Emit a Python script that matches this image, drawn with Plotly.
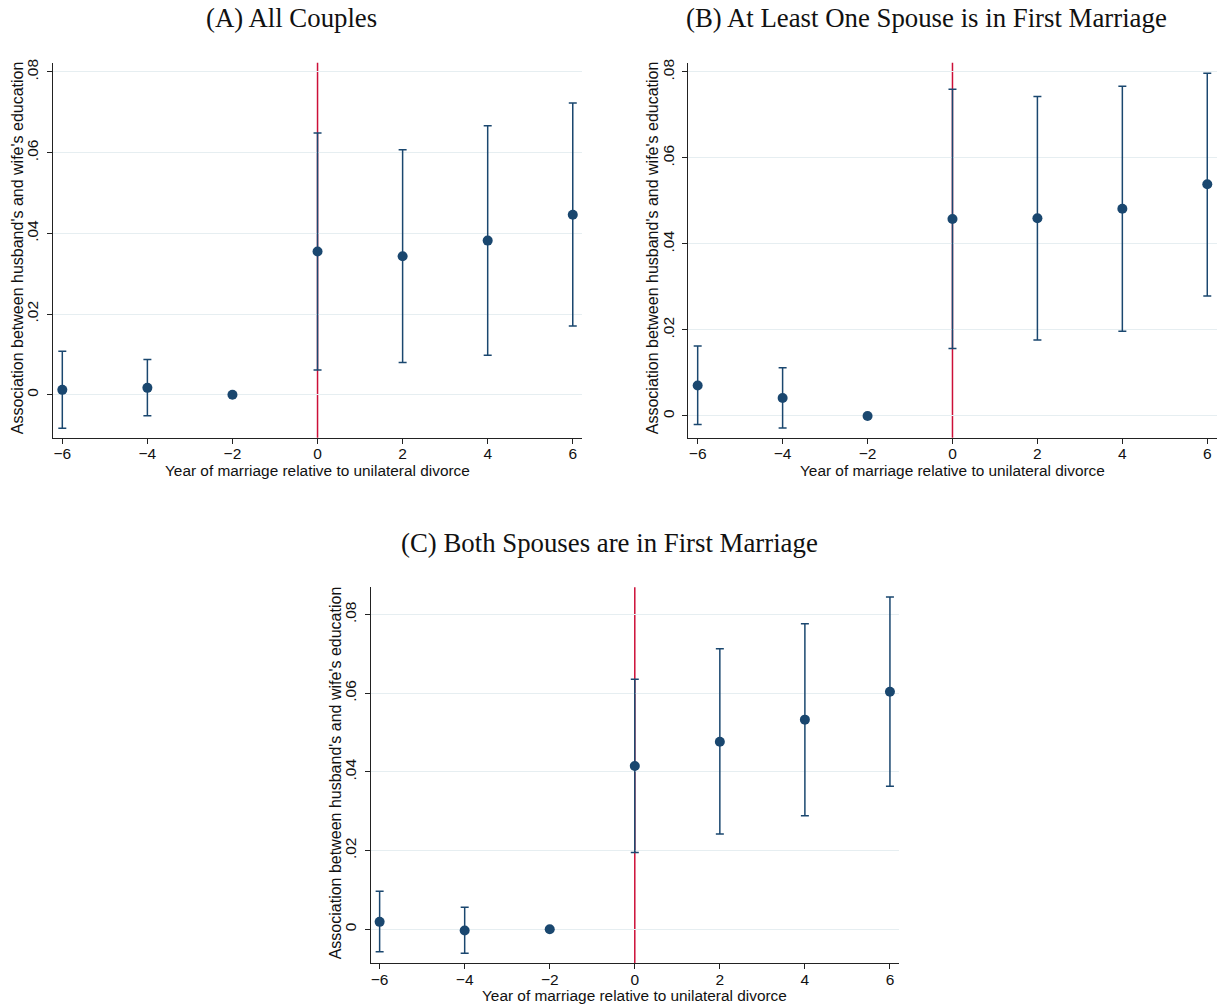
import plotly.graph_objects as go

# Event-time coefficients: year of marriage relative to unilateral divorce
years = [-6, -4, -2, 0, 2, 4, 6]

# (A) All couples
coef_a = [0.0012, 0.0017, 0.0, 0.0355, 0.0343, 0.0382, 0.0446]
lo_a = [-0.0083, -0.0052, 0.0, 0.0061, 0.0080, 0.0098, 0.0170]
hi_a = [0.0108, 0.0087, 0.0, 0.0649, 0.0607, 0.0667, 0.0723]

# (B) At least one spouse is in first marriage
coef_b = [0.0071, 0.0042, 0.0, 0.0458, 0.0460, 0.0482, 0.0539]
lo_b = [-0.0020, -0.0028, 0.0, 0.0157, 0.0177, 0.0197, 0.0279]
hi_b = [0.0163, 0.0112, 0.0, 0.0760, 0.0743, 0.0767, 0.0797]

# (C) Both spouses are in first marriage
coef_c = [0.0019, -0.0003, 0.0, 0.0415, 0.0477, 0.0533, 0.0604]
lo_c = [-0.0057, -0.0061, 0.0, 0.0195, 0.0242, 0.0289, 0.0364]
hi_c = [0.0097, 0.0056, 0.0, 0.0636, 0.0713, 0.0777, 0.0845]

panel_titles = [
    "(A) All Couples",
    "(B) At Least One Spouse is in First Marriage",
    "(C) Both Spouses are in First Marriage",
]
x_title = "Year of marriage relative to unilateral divorce"
y_title = "Association between husband's and wife's education"
y_tickvals = [0, 0.02, 0.04, 0.06, 0.08]
y_ticktext = ["0", ".02", ".04", ".06", ".08"]
x_tickvals = [-6, -4, -2, 0, 2, 4, 6]

W, H = 1222, 1006
NAVY = "#1a476f"
RED = "#cc0f38"
GRID = "#e6eef1"
INK = "#111111"
SANS = "Liberation Sans, Arial, Helvetica, sans-serif"
SERIF = "Liberation Serif, Times New Roman, serif"

# plot-area boxes in pixels: (left, right, top, bottom), axis ranges,
# panel-title centre and axis-title positions
panels = [
    dict(coef=coef_a, lo=lo_a, hi=hi_a, box=(52.7, 581.7, 62.7, 437.7),
         xr=[-6.226, 6.21], yr=[-0.01066, 0.0823], title_xy=(291, 18),
         xt_y=470, yt_x=17),
    dict(coef=coef_b, lo=lo_b, hi=hi_b, box=(688.0, 1217.3, 62.7, 437.7),
         xr=[-6.228, 6.236], yr=[-0.00505, 0.08216], title_xy=(926, 18),
         xt_y=470, yt_x=652),
    dict(coef=coef_c, lo=lo_c, hi=hi_c, box=(370.7, 899.3, 587.3, 963.3),
         xr=[-6.21, 6.22], yr=[-0.00864, 0.08695], title_xy=(609, 543),
         xt_y=995.5, yt_x=335),
]

fig = go.Figure()
layout = dict(
    width=W, height=H,
    margin=dict(l=0, r=0, t=0, b=0),
    paper_bgcolor="white", plot_bgcolor="white",
    showlegend=False,
    font=dict(family=SANS, size=15.5, color=INK),
    shapes=[], annotations=[],
)

for i, p in enumerate(panels, start=1):
    sfx = "" if i == 1 else str(i)
    xa, ya = f"x{sfx}", f"y{sfx}"
    left, right, top, bottom = p["box"]
    up = [h - c for h, c in zip(p["hi"], p["coef"])]
    dn = [c - l for c, l in zip(p["coef"], p["lo"])]

    fig.add_trace(go.Scatter(
        x=years, y=p["coef"], mode="markers", xaxis=xa, yaxis=ya,
        marker=dict(color=NAVY, size=10),
        error_y=dict(type="data", symmetric=False, array=up, arrayminus=dn,
                     color=NAVY, thickness=1.5, width=4),
        cliponaxis=False,
    ))

    layout[f"xaxis{sfx}"] = dict(
        domain=[left / W, right / W], anchor=ya, range=p["xr"],
        tickvals=x_tickvals, ticks="outside", ticklen=5, tickwidth=1,
        tickcolor="#222", showline=True, linecolor="#222", linewidth=1.2,
        showgrid=False, zeroline=False, automargin=False,
        ticklabelstandoff=-3,
        tickfont=dict(size=15.5, family=SANS, color=INK),
    )
    layout[f"yaxis{sfx}"] = dict(
        domain=[1 - bottom / H, 1 - top / H], anchor=xa, range=p["yr"],
        tickvals=y_tickvals, ticktext=y_ticktext, tickangle=-90,
        ticks="outside", ticklen=5, tickwidth=1, tickcolor="#222",
        showline=True, linecolor="#222", linewidth=1.2,
        showgrid=True, gridcolor=GRID, gridwidth=1.2,
        zeroline=False, automargin=False,
        ticklabelstandoff=2,
        tickfont=dict(size=15.5, family=SANS, color=INK),
    )

    # reference line at the year unilateral divorce was adopted
    layout["shapes"].append(dict(
        type="line", xref=xa, yref=f"{ya} domain", x0=0, x1=0, y0=0, y1=1,
        line=dict(color=RED, width=1.5), layer="below",
    ))

    tx, ty = p["title_xy"]
    layout["annotations"].append(dict(
        text=panel_titles[i - 1], xref="paper", yref="paper",
        x=tx / W, y=1 - ty / H, xanchor="center", yanchor="middle",
        showarrow=False, font=dict(family=SERIF, size=26.8, color=INK),
    ))
    # axis titles
    layout["annotations"].append(dict(
        text=x_title, xref="paper", yref="paper",
        x=(left + right) / 2 / W, y=1 - p["xt_y"] / H,
        xanchor="center", yanchor="middle", showarrow=False,
        font=dict(family=SANS, size=15.4, color=INK),
    ))
    layout["annotations"].append(dict(
        text=y_title, xref="paper", yref="paper", textangle=-90,
        x=p["yt_x"] / W, y=1 - (top + bottom) / 2 / H + 2 / H,
        xanchor="center", yanchor="middle", showarrow=False,
        font=dict(family=SANS, size=16, color=INK),
    ))

fig.update_layout(**layout)
fig.write_html("out.html")
